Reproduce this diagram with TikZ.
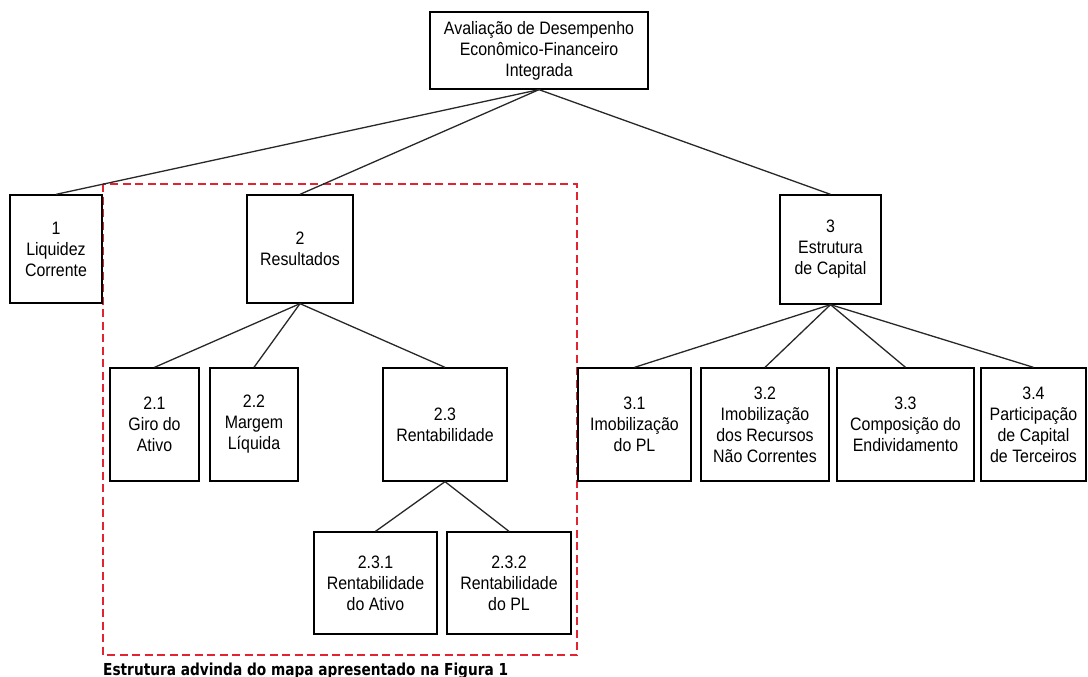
\documentclass[tikz,border=0pt]{standalone}
\usepackage{fontspec}
\setmainfont[FakeStretch=0.885]{Liberation Sans}
\newfontfamily\capfont[FakeStretch=0.83]{DejaVu Sans}
\definecolor{dashred}{RGB}{225,35,50}
\definecolor{lineblk}{RGB}{40,40,40}
\begin{document}
\begin{tikzpicture}[x=1pt,y=-1pt,
  box/.style={draw=black,line width=1.3pt,rectangle,inner sep=0pt,align=center,
    font=\fontsize{18}{21}\selectfont},
  conn/.style={draw=lineblk,line width=1.3pt},
  region/.style={draw=dashred,line width=1.3pt,dash pattern=on 8pt off 4.5pt}]
\useasboundingbox (0,0) rectangle (1088,677);
\fill[white] (0,0) rectangle (1088,677);

% region
\draw[region] (103,184) rectangle (577,655);
\node[anchor=base west,inner sep=0pt,font=\capfont\bfseries\fontsize{16.5}{19}\selectfont] (cap) at (103,675) {Estrutura advinda do mapa apresentado na Figura 1};

% nodes
\node[box,minimum width=218,minimum height=77] (top) at (539,50.5) {Avaliação de Desempenho\\Econômico-Financeiro\\Integrada};
\node[box,minimum width=92,minimum height=108] (b1) at (56,249) {1\\Liquidez\\Corrente};
\node[box,minimum width=106,minimum height=108] (b2) at (300,249) {2\\Resultados};
\node[box,minimum width=101,minimum height=109] (b3) at (830.5,249.5) {3\\Estrutura\\de Capital};

\node[box,minimum width=89,minimum height=113] (b21) at (154.5,424.5) {2.1\\Giro do\\Ativo};
\node[box,minimum width=88,minimum height=113] (b22) at (254,424.5) {2.2\\Margem\\Líquida};
\node[box,minimum width=124,minimum height=113] (b23) at (445,424.5) {2.3\\Rentabilidade};

\node[box,minimum width=123,minimum height=102] (b231) at (375.5,583) {2.3.1\\Rentabilidade\\do Ativo};
\node[box,minimum width=124,minimum height=102] (b232) at (509,583) {2.3.2\\Rentabilidade\\do PL};

\node[box,minimum width=113,minimum height=113] (b31) at (634.5,424.5) {3.1\\Imobilização\\do PL};
\node[box,minimum width=128,minimum height=113] (b32) at (765,424.5) {3.2\\Imobilização\\dos Recursos\\Não Correntes};
\node[box,minimum width=137,minimum height=113] (b33) at (905.5,424.5) {3.3\\Composição do\\Endividamento};
\node[box,minimum width=105,minimum height=113] (b34) at (1033.5,424.5) {3.4\\Participação\\de Capital\\de Terceiros};

% connectors
\draw[conn] (top.south) -- (b1.north);
\draw[conn] (top.south) -- (b2.north);
\draw[conn] (top.south) -- (b3.north);
\draw[conn] (b2.south) -- (b21.north);
\draw[conn] (b2.south) -- (b22.north);
\draw[conn] (b2.south) -- (b23.north);
\draw[conn] (b23.south) -- (b231.north);
\draw[conn] (b23.south) -- (b232.north);
\draw[conn] (b3.south) -- (b31.north);
\draw[conn] (b3.south) -- (b32.north);
\draw[conn] (b3.south) -- (b33.north);
\draw[conn] (b3.south) -- (b34.north);
\end{tikzpicture}
\end{document}
